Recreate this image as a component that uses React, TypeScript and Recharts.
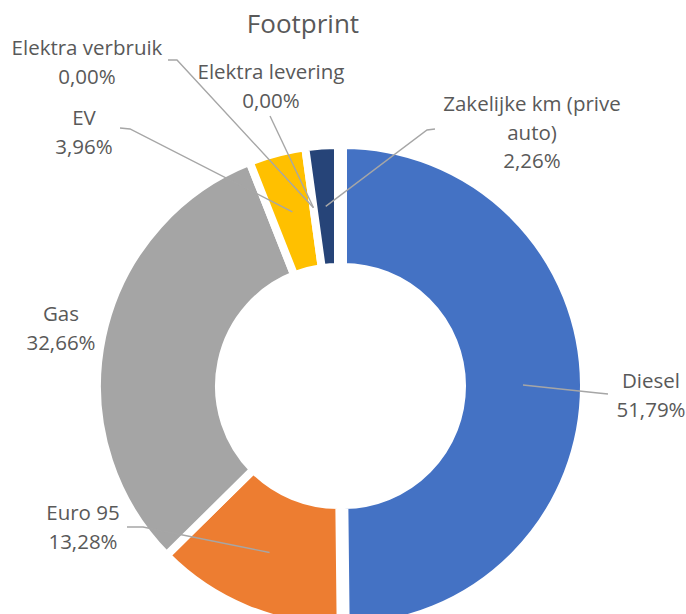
import { PieChart, Pie, Cell } from 'recharts'

const categories = ['Diesel', 'Euro 95', 'Gas', 'EV', 'Elektra verbruik', 'Elektra levering', 'Zakelijke km (prive auto)']
const shares = [51.79, 13.28, 32.66, 3.96, 0, 0, 2.26]
const colors = ['#4472C4', '#ED7D31', '#A5A5A5', '#FFC000', '#5B9BD5', '#70AD47', '#264478']

// label placement (Excel had them dragged by hand), leader ends are computed from the slice
const LABELS: Record<string, { x: number; y: number; from?: number[]; elbow?: number[] }> = {
  'Diesel': { x: 651, y: 388, from: [608, 394], elbow: [598, 393] },
  'Euro 95': { x: 83, y: 520, from: [127, 527], elbow: [143, 527] },
  'Gas': { x: 61, y: 321 },
  'EV': { x: 84, y: 125, from: [120, 128], elbow: [130, 129] },
  'Elektra verbruik': { x: 87, y: 55, from: [168, 60], elbow: [177, 60] },
  'Elektra levering': { x: 271, y: 79, from: [270, 116] },
  'Zakelijke km (prive auto)': { x: 532, y: 111, from: [435, 129], elbow: [427, 130] },
}
const EXPLODE: Record<string, number> = { Diesel: 5 }

const data = categories.map((name, i) => ({ name, value: shares[i] }))

const FONT = '"Open Sans", sans-serif'
const RAD = Math.PI / 180

const pct = (v: number) => v.toFixed(2).replace('.', ',') + '%'

function wrap(s: string, max = 19) {
  if (s.length <= max) return [s]
  const cut = s.lastIndexOf(' ', max)
  return [s.slice(0, cut), s.slice(cut + 1)]
}

function renderLabel(props: any) {
  const { cx, cy, midAngle, innerRadius, outerRadius, index } = props
  const name = categories[index]
  const lay = LABELS[name]
  if (!lay) return null
  const r = (innerRadius + outerRadius) / 2 + (EXPLODE[name] ?? 0)
  const ex = cx + r * Math.cos(-midAngle * RAD)
  const ey = cy + r * Math.sin(-midAngle * RAD)
  const lines = [...wrap(name), pct(shares[index])]
  const pts = [lay.from, lay.elbow, [ex, ey]].filter(Boolean).map(p => p!.join(',')).join(' ')
  return (
    <g key={`lbl-${index}`}>
      {lay.from && <polyline points={pts} fill="none" stroke="#A6A6A6" strokeWidth={1.4} />}
      <text x={lay.x} y={lay.y} textAnchor="middle" fill="#595959" fontSize={20.5} fontFamily={FONT}>
        {lines.map((l, i) => (
          <tspan key={i} x={lay.x} dy={i === 0 ? 0 : 28.5}>{l}</tspan>
        ))}
      </text>
    </g>
  )
}

export default function App() {
  return (
    <div style={{ position: 'absolute', left: 0, top: 0, background: '#fff' }}>
      <PieChart width={686} height={614} margin={{ top: 0, right: 0, bottom: 0, left: 0 }}>
        <text x={303} y={33} textAnchor="middle" fill="#595959" fontSize={26} fontFamily={FONT}>Footprint</text>
        {/* exploded Diesel slice */}
        <Pie
          data={data} dataKey="value" nameKey="name"
          cx={338 + EXPLODE.Diesel} cy={386} innerRadius={119} outerRadius={241}
          startAngle={90} endAngle={-270}
          stroke="#fff" strokeWidth={8} isAnimationActive={false}
        >
          {data.map((d, i) => (
            <Cell key={d.name} fill={i === 0 ? colors[i] : 'none'} stroke={i === 0 ? '#fff' : 'none'} />
          ))}
        </Pie>
        <Pie
          data={data} dataKey="value" nameKey="name"
          cx={338} cy={386} innerRadius={119} outerRadius={241}
          startAngle={90} endAngle={-270}
          stroke="#fff" strokeWidth={8} isAnimationActive={false}
          label={renderLabel} labelLine={false}
        >
          {data.map((d, i) => (
            <Cell key={d.name} fill={i === 0 ? 'none' : colors[i]} stroke={i === 0 ? 'none' : '#fff'} />
          ))}
        </Pie>
      </PieChart>
    </div>
  )
}
